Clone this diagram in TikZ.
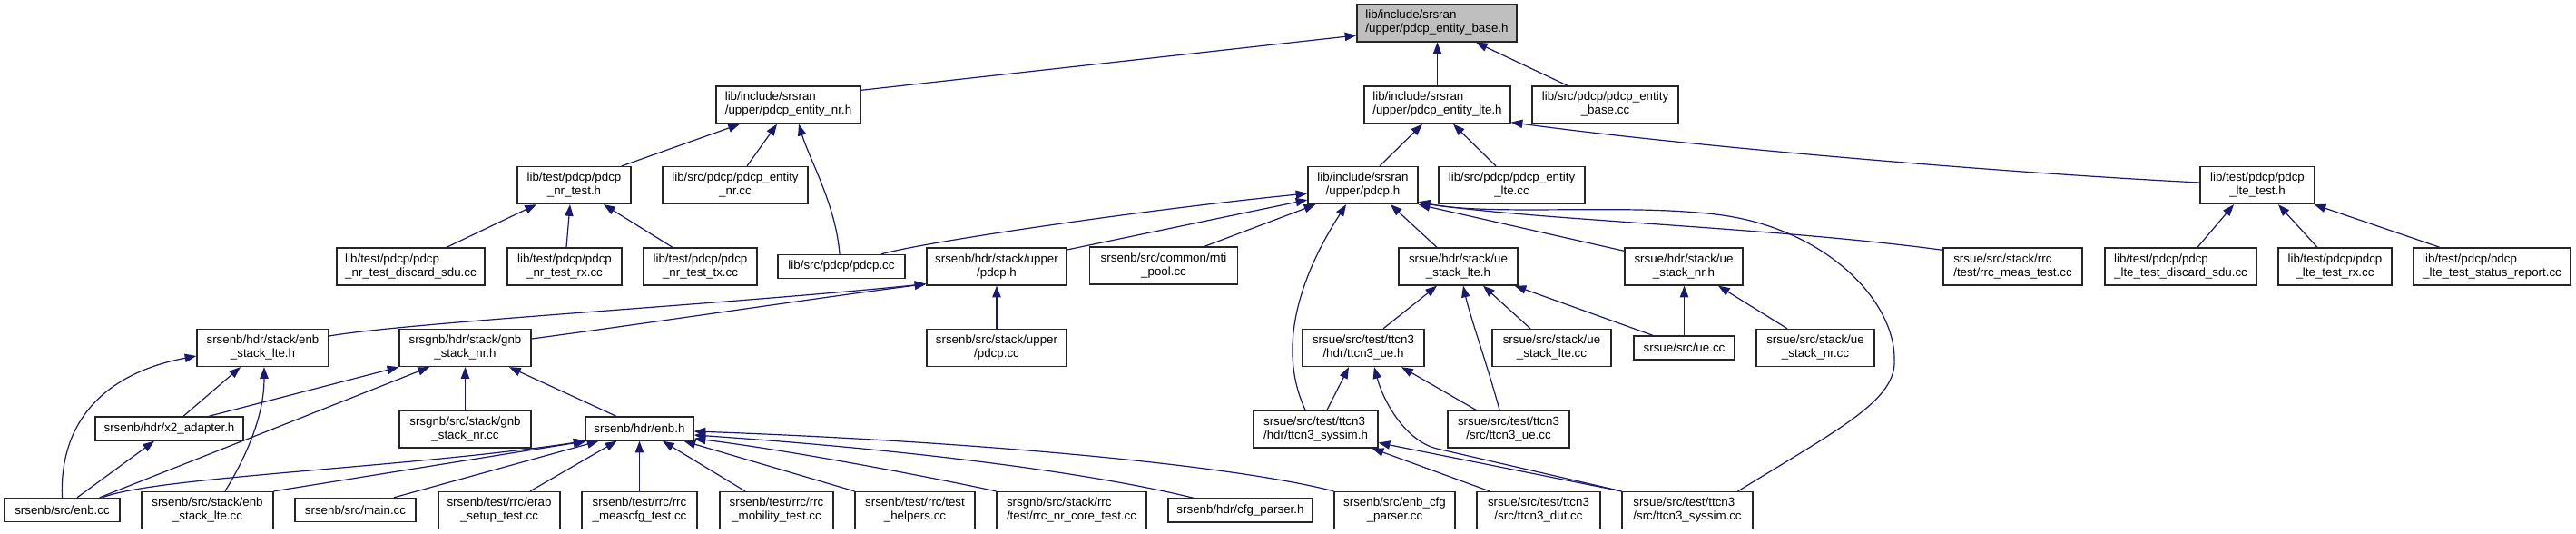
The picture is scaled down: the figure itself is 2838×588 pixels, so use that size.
\documentclass[tikz,border=0pt]{standalone}
\usepackage{fontspec}
\setmainfont{Liberation Sans}
\usetikzlibrary{arrows.meta,calc}
\definecolor{dblue}{HTML}{191970}
\definecolor{greyfill}{HTML}{BFBFBF}
\newcommand\twol[2]{\begin{tabular}{@{}l@{}}#1\\\hspace*{\fill}#2\hspace*{\fill}\end{tabular}}
\tikzset{
  nd/.style={draw=black!85, fill=white, line width=1pt, inner sep=0pt,
    font=\fontsize{10}{11.25}\selectfont, minimum height=41*0.75pt},
  one/.style={minimum height=26*0.75pt},
  bw/.style={minimum width=#1*0.75pt},
  dep/.style={draw=dblue, line width=0.9pt, -{Triangle[length=9.5pt,width=7pt]}},
}
\begin{document}
\begin{tikzpicture}[x=0.75pt,y=-0.75pt]
\fill[white] (0,0) rectangle (2838,588);
\useasboundingbox (0,0) rectangle (2838,588);
% row 1
\node[nd,bw=176,fill=greyfill] (base) at (1583,25.5) {\twol{lib/include/srsran}{/upper/pdcp\_entity\_base.h}};
% row 2
\node[nd,bw=159] (nr) at (868.5,115.5) {\twol{lib/include/srsran}{/upper/pdcp\_entity\_nr.h}};
\node[nd,bw=161] (lte) at (1583.5,115.5) {\twol{lib/include/srsran}{/upper/pdcp\_entity\_lte.h}};
\node[nd,bw=161] (basecc) at (1768.5,115.5) {\twol{lib/src/pdcp/pdcp\_entity}{\_base.cc}};
% row 3
\node[nd,bw=125] (nrtest) at (632.5,204) {\twol{lib/test/pdcp/pdcp}{\_nr\_test.h}};
\node[nd,bw=160] (nrcc) at (810,204) {\twol{lib/src/pdcp/pdcp\_entity}{\_nr.cc}};
\node[nd,bw=121] (pdcph) at (1501.5,204) {\twol{lib/include/srsran}{/upper/pdcp.h}};
\node[nd,bw=161] (ltecc) at (1665.5,204) {\twol{lib/src/pdcp/pdcp\_entity}{\_lte.cc}};
\node[nd,bw=126] (ltetest) at (2487,204) {\twol{lib/test/pdcp/pdcp}{\_lte\_test.h}};
% row 4
\node[nd,bw=163] (nrdiscard) at (452.5,293.5) {\twol{lib/test/pdcp/pdcp}{\_nr\_test\_discard\_sdu.cc}};
\node[nd,bw=126] (nrrx) at (622,293.5) {\twol{lib/test/pdcp/pdcp}{\_nr\_test\_rx.cc}};
\node[nd,bw=125] (nrtx) at (771.5,293.5) {\twol{lib/test/pdcp/pdcp}{\_nr\_test\_tx.cc}};
\node[nd,one,bw=140] (pdcpcc) at (927,293.5) {lib/src/pdcp/pdcp.cc};
\node[nd,bw=154] (upperpdcph) at (1098,293.5) {\twol{srsenb/hdr/stack/upper}{/pdcp.h}};
\node[nd,bw=163] (rntipool) at (1282,292.5) {\twol{srsenb/src/common/rnti}{\_pool.cc}};
\node[nd,bw=131] (uestacklteh) at (1606.5,293.5) {\twol{srsue/hdr/stack/ue}{\_stack\_lte.h}};
\node[nd,bw=130] (uestacknrh) at (1855,293.5) {\twol{srsue/hdr/stack/ue}{\_stack\_nr.h}};
\node[nd,bw=153] (rrcmeas) at (2217.5,293.5) {\twol{srsue/src/stack/rrc}{/test/rrc\_meas\_test.cc}};
\node[nd,bw=167] (ltediscard) at (2402.5,293.5) {\twol{lib/test/pdcp/pdcp}{\_lte\_test\_discard\_sdu.cc}};
\node[nd,bw=125] (lterx) at (2572.5,293.5) {\twol{lib/test/pdcp/pdcp}{\_lte\_test\_rx.cc}};
\node[nd,bw=173] (ltestatus) at (2745.5,293.5) {\twol{lib/test/pdcp/pdcp}{\_lte\_test\_status\_report.cc}};
% row 5
\node[nd,bw=145] (enbstackh) at (289.5,383) {\twol{srsenb/hdr/stack/enb}{\_stack\_lte.h}};
\node[nd,bw=145] (gnbstackh) at (512.5,383) {\twol{srsgnb/hdr/stack/gnb}{\_stack\_nr.h}};
\node[nd,bw=154] (upperpdcpcc) at (1098,383) {\twol{srsenb/src/stack/upper}{/pdcp.cc}};
\node[nd,bw=134] (ttcn3ueh) at (1502,383) {\twol{srsue/src/test/ttcn3}{/hdr/ttcn3\_ue.h}};
\node[nd,bw=131] (uestackltecc) at (1709.5,383) {\twol{srsue/src/stack/ue}{\_stack\_lte.cc}};
\node[nd,one,bw=111] (uecc) at (1855.5,383) {srsue/src/ue.cc};
\node[nd,bw=130] (uestacknrcc) at (2000,383) {\twol{srsue/src/stack/ue}{\_stack\_nr.cc}};
% row 6
\node[nd,one,bw=163] (x2) at (186.5,472) {srsenb/hdr/x2\_adapter.h};
\node[nd,bw=145] (gnbstackcc) at (512.5,472.5) {\twol{srsgnb/src/stack/gnb}{\_stack\_nr.cc}};
\node[nd,one,bw=119] (enbh) at (704.5,472) {srsenb/hdr/enb.h};
\node[nd,bw=137] (syssimh) at (1449.5,472.5) {\twol{srsue/src/test/ttcn3}{/hdr/ttcn3\_syssim.h}};
\node[nd,bw=134] (ttcn3uecc) at (1662,472.5) {\twol{srsue/src/test/ttcn3}{/src/ttcn3\_ue.cc}};
% row 7
\node[nd,one,bw=127] (enbcc) at (68.5,561.5) {srsenb/src/enb.cc};
\node[nd,bw=145] (enbstackcc) at (228.5,562) {\twol{srsenb/src/stack/enb}{\_stack\_lte.cc}};
\node[nd,one,bw=133] (maincc) at (391.5,561.5) {srsenb/src/main.cc};
\node[nd,bw=134] (erab) at (550,562) {\twol{srsenb/test/rrc/erab}{\_setup\_test.cc}};
\node[nd,bw=127] (meascfg) at (704.5,562) {\twol{srsenb/test/rrc/rrc}{\_meascfg\_test.cc}};
\node[nd,bw=125] (mobility) at (855.5,562) {\twol{srsenb/test/rrc/rrc}{\_mobility\_test.cc}};
\node[nd,bw=132] (helpers) at (1008,562) {\twol{srsenb/test/rrc/test}{\_helpers.cc}};
\node[nd,bw=165] (rrcnrcore) at (1180.5,562) {\twol{srsgnb/src/stack/rrc}{/test/rrc\_nr\_core\_test.cc}};
\node[nd,one,bw=159] (cfgparserh) at (1366.5,562) {srsenb/hdr/cfg\_parser.h};
\node[nd,bw=133] (enbcfg) at (1536.5,562) {\twol{srsenb/src/enb\_cfg}{\_parser.cc}};
\node[nd,bw=136] (dut) at (1695,562) {\twol{srsue/src/test/ttcn3}{/src/ttcn3\_dut.cc}};
\node[nd,bw=144] (syssimcc) at (1859,562) {\twol{srsue/src/test/ttcn3}{/src/ttcn3\_syssim.cc}};

% ---- edges (child -> parent)
% base
\draw[dep] ($(nr.north east)+(0,5)$) -- ($(base.west)+(0,13.5)$);
\draw[dep] (lte.north) -- (lte.north |- base.south);
\draw[dep] ($(basecc.north)+(-41.5,0)$) -- ($(base.south)+(43,0)$);
% nr
\draw[dep] ($(nrtest.north)+(52.5,0)$) -- ($(nr.south)+(-53.5,0)$);
\draw[dep] ($(nrcc.north)+(13,0)$) -- ($(nr.south)+(-12.5,0)$);
\draw[dep] ($(pdcpcc.north)+(-2,0)$) .. controls (921,226) and (892,176) .. ($(nr.south)+(11.5,0)$);
% lte
\draw[dep] ($(pdcph.north)+(18.5,0)$) -- ($(lte.south)+(-16.5,0)$);
\draw[dep] ($(ltecc.north)+(-17.5,0)$) -- ($(lte.south)+(17.5,0)$);
\draw[dep] ($(ltetest.west)+(0,-3)$) .. controls (2200,190) and (1850,160) .. ($(lte.south east)+(0,-2)$);
% ltetest
\draw[dep] ($(ltediscard.north)+(18.5,0)$) -- ($(ltetest.south)+(-26,0)$);
\draw[dep] ($(lterx.north)+(-19.5,0)$) -- ($(ltetest.south)+(23,0)$);
\draw[dep] ($(ltestatus.north)+(-57.5,0)$) -- ($(ltetest.south east)+(-1,0)$);
% nrtest
\draw[dep] ($(nrdiscard.north)+(39.5,0)$) -- ($(nrtest.south)+(-41.5,0)$);
\draw[dep] ($(nrrx.north)+(2,0)$) -- ($(nrtest.south)+(-4.5,0)$);
\draw[dep] ($(nrtx.north)+(-30.5,0)$) -- ($(nrtest.south)+(32.5,0)$);
% pdcph
\draw[dep] ($(pdcpcc.north)+(44,0)$) .. controls (1010,268) and (1250,232) .. ($(pdcph.west)+(0,9)$);
\draw[dep] ($(upperpdcph.east)+(0,-18.5)$) -- ($(pdcph.west)+(0,16)$);
\draw[dep] ($(rntipool.north)+(45,0)$) -- ($(pdcph.south west)+(9,0)$);
\draw[dep] ($(syssimh.north)+(-11.5,0)$) .. controls (1405,380) and (1435,300) .. ($(pdcph.south)+(-18.5,0)$);
\draw[dep] ($(uestacklteh.north)+(-23.5,0)$) -- ($(pdcph.south)+(30.5,0)$);
\draw[dep] ($(uestacknrh.north west)+(0,4)$) -- (pdcph.south east);
\draw[dep] ($(rrcmeas.north west)+(0,3)$) .. controls (1950,250) and (1700,243) .. ($(pdcph.south east)+(0,-2)$);
\draw[dep] ($(syssimcc.north east)+(-17,0)$) .. controls (2030,470) and (2090,440) .. (2087,395)
   .. controls (2087,330) and (2010,250) .. (1890,236)
   .. controls (1790,224) and (1640,238) .. ($(pdcph.south east)+(0,-3)$);
% upperpdcph
\draw[dep] ($(enbstackh.east)+(0,-13)$) .. controls (450,355) and (800,335) .. ($(upperpdcph.south west)+(0,-2)$);
\draw[dep] ($(gnbstackh.east)+(0,-10)$) .. controls (700,358) and (900,328) .. ($(upperpdcph.south west)+(0,-2)$);
\draw[dep] (upperpdcpcc.north) -- (upperpdcph.south);
% enbstackh
\draw[dep] ($(x2.north)+(15.5,0)$) -- ($(enbstackh.south)+(-24.5,0)$);
\draw[dep] ($(enbstackcc.north)+(19.5,0)$) .. controls (285,480) and (291,440) .. ($(enbstackh.south)+(1.5,0)$);
\draw[dep] (enbcc.north) .. controls (65,460) and (120,410) .. ($(enbstackh.west)+(0,9)$);
% gnbstackh
\draw[dep] ($(x2.north)+(43.5,0)$) -- (gnbstackh.south west);
\draw[dep] ($(enbcc.north east)+(-23,0)$) -- ($(gnbstackh.south)+(-39.5,0)$);
\draw[dep] (gnbstackcc.north) -- (gnbstackh.south);
\draw[dep] ($(enbh.north)+(-25.5,0)$) -- ($(gnbstackh.south)+(48.5,0)$);
% x2
\draw[dep] ($(enbcc.north)+(16.5,0)$) -- ($(x2.south)+(-16.5,0)$);
% enbh
\draw[dep] ($(enbcc.north east)+(-20,0)$) .. controls (170,525) and (450,515) .. (enbh.south west);
\draw[dep] (enbstackcc.north east) -- ($(enbh.south west)+(2,0)$);
\draw[dep] ($(maincc.north)+(42.5,0)$) -- ($(enbh.south)+(-45,0)$);
\draw[dep] ($(erab.north)+(34,0)$) -- ($(enbh.south)+(-25,0)$);
\draw[dep] (meascfg.north) -- (enbh.south);
\draw[dep] ($(mobility.north)+(-34.5,0)$) -- ($(enbh.south)+(25.5,0)$);
\draw[dep] (helpers.north west) -- ($(enbh.south)+(49,0)$);
\draw[dep] (rrcnrcore.north west) .. controls (1000,520) and (850,493) .. ($(enbh.east)+(0,11)$);
\draw[dep] ($(cfgparserh.north)+(-51.5,0)$) .. controls (1200,520) and (1000,495) .. ($(enbh.east)+(0,7)$);
\draw[dep] (enbcfg.north west) .. controls (1350,510) and (1050,485) .. ($(enbh.east)+(0,3)$);
% uestacklteh
\draw[dep] ($(ttcn3ueh.north)+(22,0)$) -- ($(uestacklteh.south)+(-23.5,0)$);
\draw[dep] ($(uestackltecc.north)+(-23.5,0)$) -- ($(uestacklteh.south)+(27.5,0)$);
\draw[dep] ($(ttcn3uecc.north)+(-10,0)$) .. controls (1638,400) and (1620,350) .. ($(uestacklteh.south)+(5.5,0)$);
\draw[dep] ($(uecc.north)+(-34.5,0)$) -- ($(uestacklteh.south east)+(-4,0)$);
% uestacknrh
\draw[dep] (uecc.north) -- (uecc.north |- uestacknrh.south);
\draw[dep] ($(uestacknrcc.north)+(-31,0)$) -- ($(uestacknrh.south)+(38,0)$);
% ttcn3ueh
\draw[dep] ($(syssimh.north)+(12.5,0)$) -- ($(ttcn3ueh.south)+(-16,0)$);
\draw[dep] ($(ttcn3uecc.north)+(-36,0)$) -- ($(ttcn3ueh.south)+(42,0)$);
\draw[dep] (syssimcc.north west) -- (1583,494) .. controls (1550,486) and (1525,445) .. ($(ttcn3ueh.south)+(12,0)$);
% syssimh
\draw[dep] ($(dut.north)+(-54,0)$) -- ($(syssimh.south east)+(-7,0)$);
\draw[dep] (syssimcc.north west) -- ($(syssimh.east)+(0,15)$);
\end{tikzpicture}
\end{document}
